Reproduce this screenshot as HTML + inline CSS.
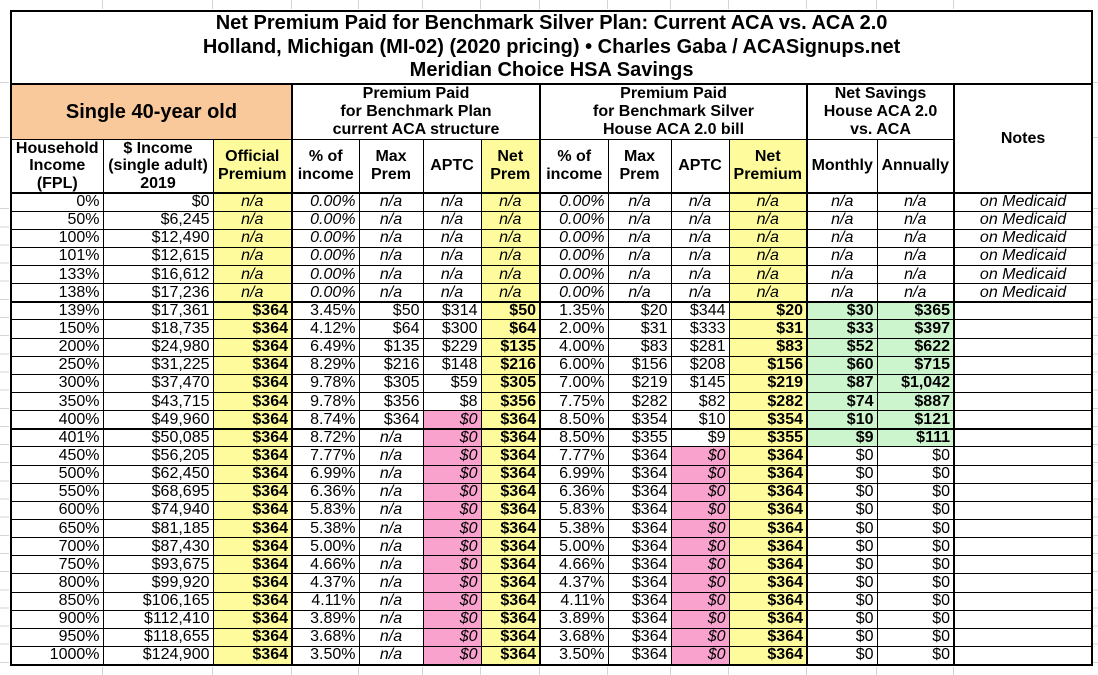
<!DOCTYPE html>
<html>
<head>
<meta charset="utf-8">
<style>
  html,body{margin:0;padding:0;background:#fff;}
  body{width:1098px;height:675px;position:relative;overflow:hidden;font-family:"Liberation Sans",Arial,sans-serif;color:#000;}
  .gv{position:absolute;width:1px;background:#d4d4d4;}
  .gh{position:absolute;height:1px;background:#d4d4d4;}
  table{position:absolute;left:10px;top:10px;width:1081px;border-collapse:collapse;table-layout:fixed;border:2px solid #000;}
  td{border:1px solid #000;padding:0 3px 0 0;text-align:right;font-size:16px;line-height:16px;white-space:nowrap;overflow:hidden;vertical-align:middle;}
  tr.d{height:18.15px;}
  tr.d td:nth-child(4),tr.d td:nth-child(8),tr.d td:nth-child(12),tr.d td:nth-child(14){border-left:2px solid #000;}
  tr.tk td{border-top:2px solid #000;}
  .title{text-align:center;font-weight:bold;font-size:20px;line-height:23.5px;padding:0;border-bottom:2px solid #000;}
  .grp{text-align:center;font-weight:bold;font-size:16px;line-height:18px;padding:0;}
  .hb{text-align:center;font-weight:bold;font-size:16px;line-height:17.5px;padding:0;}
  .L{border-left:2px solid #000 !important;}
  .hdr td{border-bottom:2px solid #000;}
  .c{text-align:center;padding:0;}
  .i{font-style:italic;}
  .b{font-weight:bold;}
  .y{background:#fefb9c;}
  .p{background:#f8a2cd;}
  .g{background:#cdf5cd;}
  .o{background:#f9c99b;font-size:20px;font-weight:bold;text-align:center;padding:0;}
  .gl{border-left-color:#c8c8c8 !important;}
</style>
</head>
<body>
<div class="gv" style="left:102px;top:0;height:9px"></div>
<div class="gv" style="left:212px;top:0;height:9px"></div>
<div class="gv" style="left:291px;top:0;height:9px"></div>
<div class="gv" style="left:358px;top:0;height:9px"></div>
<div class="gv" style="left:422px;top:0;height:9px"></div>
<div class="gv" style="left:480px;top:0;height:9px"></div>
<div class="gv" style="left:539px;top:0;height:9px"></div>
<div class="gv" style="left:607px;top:0;height:9px"></div>
<div class="gv" style="left:670px;top:0;height:9px"></div>
<div class="gv" style="left:728px;top:0;height:9px"></div>
<div class="gv" style="left:806px;top:0;height:9px"></div>
<div class="gv" style="left:876px;top:0;height:9px"></div>
<div class="gv" style="left:953px;top:0;height:9px"></div>
<div class="gv" style="left:102px;top:667px;height:8px"></div>
<div class="gv" style="left:212px;top:667px;height:8px"></div>
<div class="gv" style="left:291px;top:667px;height:8px"></div>
<div class="gv" style="left:358px;top:667px;height:8px"></div>
<div class="gv" style="left:422px;top:667px;height:8px"></div>
<div class="gv" style="left:480px;top:667px;height:8px"></div>
<div class="gv" style="left:539px;top:667px;height:8px"></div>
<div class="gv" style="left:607px;top:667px;height:8px"></div>
<div class="gv" style="left:670px;top:667px;height:8px"></div>
<div class="gv" style="left:728px;top:667px;height:8px"></div>
<div class="gv" style="left:806px;top:667px;height:8px"></div>
<div class="gv" style="left:876px;top:667px;height:8px"></div>
<div class="gv" style="left:953px;top:667px;height:8px"></div>
<div style="position:absolute;left:0;top:191px;width:9px;height:474px;background:repeating-linear-gradient(to bottom,transparent 0,transparent 17.15px,#d4d4d4 17.15px,#d4d4d4 18.15px);"></div>
<div style="position:absolute;left:1093px;top:191px;width:5px;height:474px;background:repeating-linear-gradient(to bottom,transparent 0,transparent 17.15px,#d4d4d4 17.15px,#d4d4d4 18.15px);"></div>
<div class="gh" style="left:0;top:82px;width:9px"></div>
<div class="gh" style="left:0;top:137px;width:9px"></div>
<div class="gh" style="left:1093px;top:82px;width:5px"></div>
<div class="gh" style="left:1093px;top:137px;width:5px"></div>

<table>
<colgroup>
<col style="width:92px"><col style="width:110px"><col style="width:79px"><col style="width:67px"><col style="width:64px"><col style="width:58px"><col style="width:59px"><col style="width:68px"><col style="width:63px"><col style="width:58px"><col style="width:78px"><col style="width:70px"><col style="width:77px"><col style="width:138px">
</colgroup>
<tr style="height:72px"><td class="title" colspan="14">Net Premium Paid for Benchmark Silver Plan: Current ACA vs. ACA 2.0<br>Holland, Michigan (MI-02) (2020 pricing) • Charles Gaba / ACASignups.net<br>Meridian Choice HSA Savings</td></tr>
<tr style="height:55px">
<td class="o" colspan="3">Single 40-year old</td>
<td class="grp L" colspan="4">Premium Paid<br>for Benchmark Plan<br>current ACA structure</td>
<td class="grp L" colspan="4">Premium Paid<br>for Benchmark Silver<br>House ACA 2.0 bill</td>
<td class="grp L" colspan="2">Net Savings<br>House ACA 2.0<br>vs. ACA</td>
<td class="hb L" rowspan="2" style="border-bottom:2px solid #000;">Notes</td>
</tr>
<tr class="hdr" style="height:54px">
<td class="hb">Household<br>Income<br>(FPL)</td>
<td class="hb">$ Income<br>(single adult)<br>2019</td>
<td class="hb y">Official<br>Premium</td>
<td class="hb L">% of<br>income</td>
<td class="hb">Max<br>Prem</td>
<td class="hb gl">APTC</td>
<td class="hb y gl">Net<br>Prem</td>
<td class="hb L">% of<br>income</td>
<td class="hb">Max<br>Prem</td>
<td class="hb gl">APTC</td>
<td class="hb y gl">Net<br>Premium</td>
<td class="hb L">Monthly</td>
<td class="hb">Annually</td>
</tr>
<tr class="d"><td>0%</td><td>$0</td><td class="y c i">n/a</td><td class="i">0.00%</td><td class="c i">n/a</td><td class="c i">n/a</td><td class="y c i">n/a</td><td class="i">0.00%</td><td class="c i">n/a</td><td class="c i">n/a</td><td class="y c i">n/a</td><td class="c i">n/a</td><td class="c i">n/a</td><td class="c i">on Medicaid</td></tr>
<tr class="d"><td>50%</td><td>$6,245</td><td class="y c i">n/a</td><td class="i">0.00%</td><td class="c i">n/a</td><td class="c i">n/a</td><td class="y c i">n/a</td><td class="i">0.00%</td><td class="c i">n/a</td><td class="c i">n/a</td><td class="y c i">n/a</td><td class="c i">n/a</td><td class="c i">n/a</td><td class="c i">on Medicaid</td></tr>
<tr class="d"><td>100%</td><td>$12,490</td><td class="y c i">n/a</td><td class="i">0.00%</td><td class="c i">n/a</td><td class="c i">n/a</td><td class="y c i">n/a</td><td class="i">0.00%</td><td class="c i">n/a</td><td class="c i">n/a</td><td class="y c i">n/a</td><td class="c i">n/a</td><td class="c i">n/a</td><td class="c i">on Medicaid</td></tr>
<tr class="d"><td>101%</td><td>$12,615</td><td class="y c i">n/a</td><td class="i">0.00%</td><td class="c i">n/a</td><td class="c i">n/a</td><td class="y c i">n/a</td><td class="i">0.00%</td><td class="c i">n/a</td><td class="c i">n/a</td><td class="y c i">n/a</td><td class="c i">n/a</td><td class="c i">n/a</td><td class="c i">on Medicaid</td></tr>
<tr class="d"><td>133%</td><td>$16,612</td><td class="y c i">n/a</td><td class="i">0.00%</td><td class="c i">n/a</td><td class="c i">n/a</td><td class="y c i">n/a</td><td class="i">0.00%</td><td class="c i">n/a</td><td class="c i">n/a</td><td class="y c i">n/a</td><td class="c i">n/a</td><td class="c i">n/a</td><td class="c i">on Medicaid</td></tr>
<tr class="d"><td>138%</td><td>$17,236</td><td class="y c i">n/a</td><td class="i">0.00%</td><td class="c i">n/a</td><td class="c i">n/a</td><td class="y c i">n/a</td><td class="i">0.00%</td><td class="c i">n/a</td><td class="c i">n/a</td><td class="y c i">n/a</td><td class="c i">n/a</td><td class="c i">n/a</td><td class="c i">on Medicaid</td></tr>
<tr class="d tk"><td>139%</td><td>$17,361</td><td class="y b">$364</td><td>3.45%</td><td>$50</td><td>$314</td><td class="y b">$50</td><td>1.35%</td><td>$20</td><td>$344</td><td class="y b">$20</td><td class="g b">$30</td><td class="g b">$365</td><td></td></tr>
<tr class="d"><td>150%</td><td>$18,735</td><td class="y b">$364</td><td>4.12%</td><td>$64</td><td>$300</td><td class="y b">$64</td><td>2.00%</td><td>$31</td><td>$333</td><td class="y b">$31</td><td class="g b">$33</td><td class="g b">$397</td><td></td></tr>
<tr class="d"><td>200%</td><td>$24,980</td><td class="y b">$364</td><td>6.49%</td><td>$135</td><td>$229</td><td class="y b">$135</td><td>4.00%</td><td>$83</td><td>$281</td><td class="y b">$83</td><td class="g b">$52</td><td class="g b">$622</td><td></td></tr>
<tr class="d"><td>250%</td><td>$31,225</td><td class="y b">$364</td><td>8.29%</td><td>$216</td><td>$148</td><td class="y b">$216</td><td>6.00%</td><td>$156</td><td>$208</td><td class="y b">$156</td><td class="g b">$60</td><td class="g b">$715</td><td></td></tr>
<tr class="d"><td>300%</td><td>$37,470</td><td class="y b">$364</td><td>9.78%</td><td>$305</td><td>$59</td><td class="y b">$305</td><td>7.00%</td><td>$219</td><td>$145</td><td class="y b">$219</td><td class="g b">$87</td><td class="g b">$1,042</td><td></td></tr>
<tr class="d"><td>350%</td><td>$43,715</td><td class="y b">$364</td><td>9.78%</td><td>$356</td><td>$8</td><td class="y b">$356</td><td>7.75%</td><td>$282</td><td>$82</td><td class="y b">$282</td><td class="g b">$74</td><td class="g b">$887</td><td></td></tr>
<tr class="d"><td>400%</td><td>$49,960</td><td class="y b">$364</td><td>8.74%</td><td>$364</td><td class="p i">$0</td><td class="y b">$364</td><td>8.50%</td><td>$354</td><td>$10</td><td class="y b">$354</td><td class="g b">$10</td><td class="g b">$121</td><td></td></tr>
<tr class="d tk"><td>401%</td><td>$50,085</td><td class="y b">$364</td><td>8.72%</td><td class="c i">n/a</td><td class="p i">$0</td><td class="y b">$364</td><td>8.50%</td><td>$355</td><td>$9</td><td class="y b">$355</td><td class="g b">$9</td><td class="g b">$111</td><td></td></tr>
<tr class="d"><td>450%</td><td>$56,205</td><td class="y b">$364</td><td>7.77%</td><td class="c i">n/a</td><td class="p i">$0</td><td class="y b">$364</td><td>7.77%</td><td>$364</td><td class="p i">$0</td><td class="y b">$364</td><td>$0</td><td>$0</td><td></td></tr>
<tr class="d"><td>500%</td><td>$62,450</td><td class="y b">$364</td><td>6.99%</td><td class="c i">n/a</td><td class="p i">$0</td><td class="y b">$364</td><td>6.99%</td><td>$364</td><td class="p i">$0</td><td class="y b">$364</td><td>$0</td><td>$0</td><td></td></tr>
<tr class="d"><td>550%</td><td>$68,695</td><td class="y b">$364</td><td>6.36%</td><td class="c i">n/a</td><td class="p i">$0</td><td class="y b">$364</td><td>6.36%</td><td>$364</td><td class="p i">$0</td><td class="y b">$364</td><td>$0</td><td>$0</td><td></td></tr>
<tr class="d"><td>600%</td><td>$74,940</td><td class="y b">$364</td><td>5.83%</td><td class="c i">n/a</td><td class="p i">$0</td><td class="y b">$364</td><td>5.83%</td><td>$364</td><td class="p i">$0</td><td class="y b">$364</td><td>$0</td><td>$0</td><td></td></tr>
<tr class="d"><td>650%</td><td>$81,185</td><td class="y b">$364</td><td>5.38%</td><td class="c i">n/a</td><td class="p i">$0</td><td class="y b">$364</td><td>5.38%</td><td>$364</td><td class="p i">$0</td><td class="y b">$364</td><td>$0</td><td>$0</td><td></td></tr>
<tr class="d"><td>700%</td><td>$87,430</td><td class="y b">$364</td><td>5.00%</td><td class="c i">n/a</td><td class="p i">$0</td><td class="y b">$364</td><td>5.00%</td><td>$364</td><td class="p i">$0</td><td class="y b">$364</td><td>$0</td><td>$0</td><td></td></tr>
<tr class="d"><td>750%</td><td>$93,675</td><td class="y b">$364</td><td>4.66%</td><td class="c i">n/a</td><td class="p i">$0</td><td class="y b">$364</td><td>4.66%</td><td>$364</td><td class="p i">$0</td><td class="y b">$364</td><td>$0</td><td>$0</td><td></td></tr>
<tr class="d"><td>800%</td><td>$99,920</td><td class="y b">$364</td><td>4.37%</td><td class="c i">n/a</td><td class="p i">$0</td><td class="y b">$364</td><td>4.37%</td><td>$364</td><td class="p i">$0</td><td class="y b">$364</td><td>$0</td><td>$0</td><td></td></tr>
<tr class="d"><td>850%</td><td>$106,165</td><td class="y b">$364</td><td>4.11%</td><td class="c i">n/a</td><td class="p i">$0</td><td class="y b">$364</td><td>4.11%</td><td>$364</td><td class="p i">$0</td><td class="y b">$364</td><td>$0</td><td>$0</td><td></td></tr>
<tr class="d"><td>900%</td><td>$112,410</td><td class="y b">$364</td><td>3.89%</td><td class="c i">n/a</td><td class="p i">$0</td><td class="y b">$364</td><td>3.89%</td><td>$364</td><td class="p i">$0</td><td class="y b">$364</td><td>$0</td><td>$0</td><td></td></tr>
<tr class="d"><td>950%</td><td>$118,655</td><td class="y b">$364</td><td>3.68%</td><td class="c i">n/a</td><td class="p i">$0</td><td class="y b">$364</td><td>3.68%</td><td>$364</td><td class="p i">$0</td><td class="y b">$364</td><td>$0</td><td>$0</td><td></td></tr>
<tr class="d"><td>1000%</td><td>$124,900</td><td class="y b">$364</td><td>3.50%</td><td class="c i">n/a</td><td class="p i">$0</td><td class="y b">$364</td><td>3.50%</td><td>$364</td><td class="p i">$0</td><td class="y b">$364</td><td>$0</td><td>$0</td><td></td></tr>
</table>
</body>
</html>
